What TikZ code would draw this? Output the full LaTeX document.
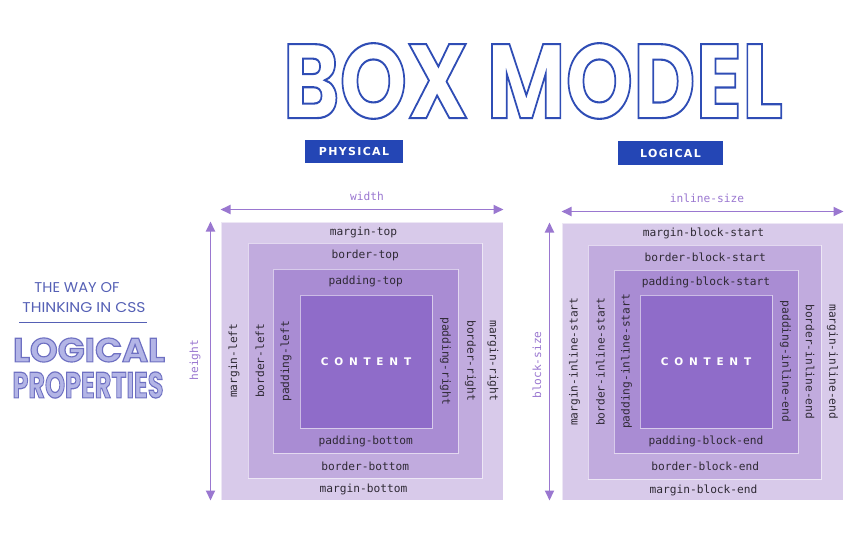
\documentclass[tikz,border=0pt]{standalone}
\usepackage{fontspec}
\usetikzlibrary{arrows.meta}
\usetikzlibrary{calc}
\usetikzlibrary{positioning}
\setmainfont{DejaVu Sans}
\newfontfamily\labelfont{DejaVu Sans Mono}
\newfontfamily\titlefont{Poppins}
\newfontfamily\spacedfont[LetterSpace=55]{DejaVu Sans}
\newfontfamily\badgefont[LetterSpace=12]{DejaVu Sans}

\definecolor{marginfill}{HTML}{D8CAEA}
\definecolor{borderfill}{HTML}{C1ABDE}
\definecolor{paddingfill}{HTML}{A98CD3}
\definecolor{contentfill}{HTML}{8F6CC9}
\definecolor{dimcol}{HTML}{9A77D0}
\definecolor{labelcol}{HTML}{2F2A35}
\definecolor{inkblue}{HTML}{2F4DB5}
\definecolor{badgeblue}{HTML}{2446B5}
\definecolor{lavfill}{HTML}{B3B5E6}
\definecolor{handblue}{HTML}{5560B5}

% outlined lettering: stroke only, or fill plus a darker stroke
\newcommand\strokeonly[2]{\special{pdf:literal direct 1 Tr #1 w}#2\special{pdf:literal direct 0 Tr}}
\newcommand\fillstroke[2]{\special{pdf:literal direct 0.43 0.44 0.76 RG 2 Tr #1 w}#2\special{pdf:literal direct 0 Tr}}

\tikzset{
  layer/.style={draw=white, draw opacity=.55, line width=1pt, inner sep=0pt},
  marginbox/.style={layer, fill=marginfill},
  borderbox/.style={layer, fill=borderfill},
  paddingbox/.style={layer, fill=paddingfill},
  contentbox/.style={layer, fill=contentfill, text=white,
    font=\spacedfont\bfseries\fontsize{10.5}{12}\selectfont},
  prop/.style={text=labelcol, inner sep=1pt,
    font=\labelfont\fontsize{11.2}{12}\selectfont},
  dimlabel/.style={text=dimcol, inner sep=1pt,
    font=\labelfont\fontsize{11.2}{12}\selectfont},
  dimarrow/.style={draw=dimcol, line width=1.8pt,
    {Triangle[length=10pt,width=9pt]}-{Triangle[length=10pt,width=9pt]}},
  badge/.style={fill=badgeblue, text=white, inner sep=0pt,
    font=\badgefont\bfseries\fontsize{11}{12}\selectfont}
}

\begin{document}
\begin{tikzpicture}[x=1pt,y=-1pt]
\useasboundingbox (0,0) rectangle (858,538);

% title and side note
\node (title) [inkblue, inner sep=0pt] at (533,81)
  {\resizebox{500pt}{75pt}{\titlefont\bfseries\fontsize{60}{60}\selectfont
   \strokeonly{1.2}{BOX MODEL}}};
\node (physical) [badge, minimum width=98pt, minimum height=23pt] at (354,151.5) {PHYSICAL};
\node (logical) [badge, minimum width=105pt, minimum height=24pt] at (670.5,153) {LOGICAL};

\node (way) [handblue, inner sep=0pt] at (77,288)
  {\resizebox{85pt}{10pt}{\titlefont THE WAY OF}};
\node (thinking) [handblue, inner sep=0pt] at (84,308)
  {\resizebox{123pt}{10pt}{\titlefont THINKING IN CSS}};
\draw [handblue, line width=.8pt] ([yshift=-9pt]thinking.south west) ++(-3,0) -- ++(128,0);
\node (logic) [lavfill, inner sep=0pt] at (89,350)
  {\resizebox{152pt}{24pt}{\titlefont\bfseries\fontsize{30}{30}\selectfont
   \fillstroke{1}{LOGICAL}}};
\node (props) [lavfill, inner sep=0pt] at (88,385)
  {\resizebox{151pt}{26pt}{\titlefont\bfseries\fontsize{30}{30}\selectfont
   \fillstroke{1}{PROPERTIES}}};

% physical box
\node (pmargin) [marginbox, minimum width=282pt, minimum height=278pt] at (362,361) {};
\node (pborder) [borderbox, minimum width=234pt, minimum height=235pt] at (365,360.5) {};
\node (ppadding) [paddingbox, minimum width=185pt, minimum height=184pt] at (365.5,361) {};
\node (pcontent) [contentbox, minimum width=132pt, minimum height=133pt] at (366,361.5) {CONTENT};

\node (mtop) [prop] at ($(pmargin.north)!.5!(pborder.north)$) {margin-top};
\node (btop) [prop] at ($(pborder.north)!.5!(ppadding.north)$) {border-top};
\node (ptop) [prop] at ($(ppadding.north)!.5!(pcontent.north)$) {padding-top};
\node (pbot) [prop] at ($(pcontent.south)!.5!(ppadding.south)$) {padding-bottom};
\node (bbot) [prop] at ($(ppadding.south)!.5!(pborder.south)$) {border-bottom};
\node (mbot) [prop] at ($(pborder.south)!.5!(pmargin.south)$) {margin-bottom};
\node (mleft) [prop, rotate=90] at ($(pmargin.west)!.5!(pborder.west)$) {margin-left};
\node (bleft) [prop, rotate=90] at ($(pborder.west)!.5!(ppadding.west)$) {border-left};
\node (pleft) [prop, rotate=90] at ($(ppadding.west)!.5!(pcontent.west)$) {padding-left};
\node (pright) [prop, rotate=-90] at ($(pcontent.east)!.5!(ppadding.east)$) {padding-right};
\node (bright) [prop, rotate=-90] at ($(ppadding.east)!.5!(pborder.east)$) {border-right};
\node (mright) [prop, rotate=-90] at ($(pborder.east)!.5!(pmargin.east)$) {margin-right};

\draw [dimarrow] ([yshift=12pt]pmargin.north west) -- ([yshift=12pt]pmargin.north east);
\draw [dimarrow] ([xshift=-10pt]pmargin.north west) -- ([xshift=-10pt]pmargin.south west);
\node (width) [dimlabel] at (367,196) {width};
\node (height) [dimlabel, rotate=90] at (195,360) {height};

% logical box
\node (lmargin) [marginbox, minimum width=281pt, minimum height=277pt] at (702.5,361.5) {};
\node (lborder) [borderbox, minimum width=233pt, minimum height=234pt] at (704.5,362) {};
\node (lpadding) [paddingbox, minimum width=184pt, minimum height=183pt] at (706,361.5) {};
\node (lcontent) [contentbox, minimum width=132pt, minimum height=133pt] at (706,361.5) {CONTENT};

\node (mbs) [prop] at ($(lmargin.north)!.5!(lborder.north)$) {margin-block-start};
\node (bbs) [prop] at ($(lborder.north)!.5!(lpadding.north)$) {border-block-start};
\node (pbs) [prop] at ($(lpadding.north)!.5!(lcontent.north)$) {padding-block-start};
\node (pbe) [prop] at ($(lcontent.south)!.5!(lpadding.south)$) {padding-block-end};
\node (bbe) [prop] at ($(lpadding.south)!.5!(lborder.south)$) {border-block-end};
\node (mbe) [prop] at ($(lborder.south)!.5!(lmargin.south)$) {margin-block-end};
\node (mis) [prop, rotate=90] at ($(lmargin.west)!.5!(lborder.west)$) {margin-inline-start};
\node (bis) [prop, rotate=90] at ($(lborder.west)!.5!(lpadding.west)$) {border-inline-start};
\node (pis) [prop, rotate=90] at ($(lpadding.west)!.5!(lcontent.west)$) {padding-inline-start};
\node (pie) [prop, rotate=-90] at ($(lcontent.east)!.5!(lpadding.east)$) {padding-inline-end};
\node (bie) [prop, rotate=-90] at ($(lpadding.east)!.5!(lborder.east)$) {border-inline-end};
\node (mie) [prop, rotate=-90] at ($(lborder.east)!.5!(lmargin.east)$) {margin-inline-end};

\draw [dimarrow] ([yshift=11pt]lmargin.north west) -- ([yshift=11pt]lmargin.north east);
\draw [dimarrow] ([xshift=-12pt]lmargin.north west) -- ([xshift=-12pt]lmargin.south west);
\node (inline) [dimlabel] at (707,198) {inline-size};
\node (block) [dimlabel, rotate=90] at (537,365) {block-size};
\end{tikzpicture}
\end{document}
